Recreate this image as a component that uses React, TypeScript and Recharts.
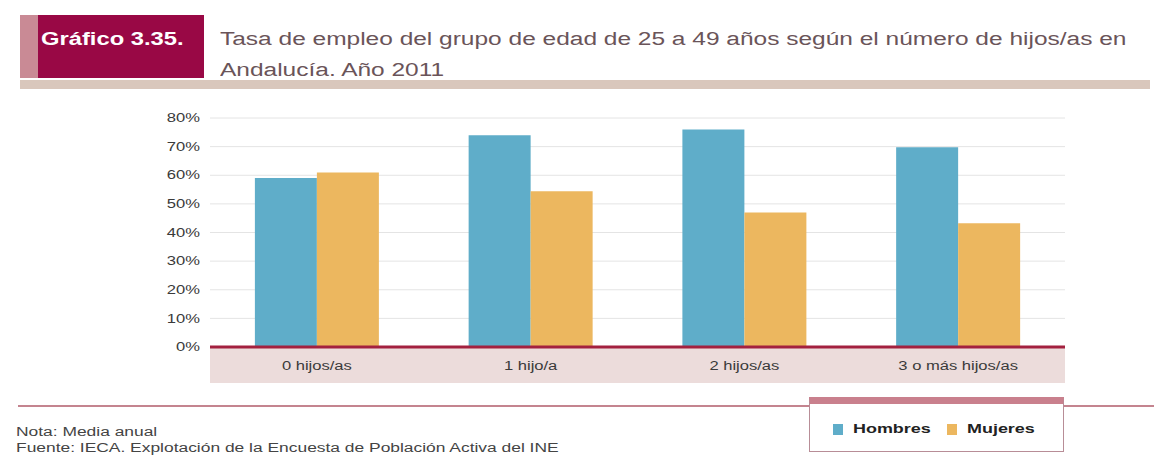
import React from 'react';
import { BarChart, Bar, XAxis, YAxis, CartesianGrid, Legend } from 'recharts';

const categories = ['0 hijos/as', '1 hijo/a', '2 hijos/as', '3 o más hijos/as'];
const hombres = [59, 74, 76, 69.8];
const mujeres = [61, 54.4, 47, 43.2];
const yTicks = [0, 10, 20, 30, 40, 50, 60, 70, 80];
const seriesNames = ['Hombres', 'Mujeres'];
const seriesColors = ['#5fadc9', '#ecb75f'];

const chartTitleTag = 'Gráfico 3.35.';
const chartTitleLine1 = 'Tasa de empleo del grupo de edad de 25 a 49 años según el número de hijos/as en';
const chartTitleLine2 = 'Andalucía. Año 2011';
const noteText = 'Nota: Media anual';
const sourceText = 'Fuente: IECA. Explotación de la Encuesta de Población Activa del INE';

const data = categories.map((c, i) => ({ cat: c, Hombres: hombres[i], Mujeres: mujeres[i] }));

const SX = 1.38;
const FONT = '"Liberation Sans", Arial, sans-serif';

const Stretch = ({ children, style, sx }: any) => (
  <span style={{ display: 'inline-block', transform: `scaleX(${sx || SX})`, transformOrigin: '0 0', whiteSpace: 'nowrap', ...style }}>
    {children}
  </span>
);

const YTick = (props: any) => {
  const { x, y, payload } = props;
  return (
    <g transform={`translate(${x - 2},${y}) scale(${SX},1)`}>
      <text x={0} y={0} dy="0.35em" textAnchor="end" fontSize={12} fill="#3a3a3a" fontFamily={FONT}>
        {`${payload.value}%`}
      </text>
    </g>
  );
};

const XTick = (props: any) => {
  const { x, payload } = props;
  return (
    <g transform={`translate(${x},370) scale(${SX},1)`}>
      <text x={0} y={0} textAnchor="middle" fontSize={12} fill="#3a3a3a" fontFamily={FONT}>
        {payload.value}
      </text>
    </g>
  );
};

const LegendContent = () => (
  <div
    style={{
      boxSizing: 'border-box',
      width: 255,
      height: 55,
      background: '#fff',
      borderLeft: '1px solid #b88d97',
      borderRight: '1px solid #b88d97',
      borderBottom: '1px solid #b88d97',
      borderTop: '7px solid #c9808d',
      position: 'relative',
      fontFamily: FONT,
    }}
  >
    {seriesNames.map((n, i) => (
      <div key={n} style={{ position: 'absolute', left: i === 0 ? 23 : 137, top: 17, height: 16, display: 'flex', alignItems: 'center' }}>
        <div style={{ width: 10, height: 11, background: seriesColors[i], marginRight: 10 }} />
        <Stretch style={{ fontSize: 13, fontWeight: 'bold', color: '#222', lineHeight: '16px' }}>{n}</Stretch>
      </div>
    ))}
  </div>
);

export default function App() {
  return (
    <div style={{ position: 'absolute', left: 0, top: 0, width: 1154, height: 460, background: '#fff', overflow: 'hidden', fontFamily: FONT }}>
      {/* header */}
      <div style={{ position: 'absolute', left: 20, top: 80, width: 1130, height: 9, background: '#d9c7bc' }} />
      <div style={{ position: 'absolute', left: 20, top: 15, width: 18, height: 63, background: '#c98a95' }} />
      <div style={{ position: 'absolute', left: 38, top: 15, width: 166, height: 63, background: '#990845' }} />
      <div style={{ position: 'absolute', left: 41, top: 28 }}>
        <Stretch sx={1.32} style={{ fontSize: 18, fontWeight: 'bold', color: '#fff', lineHeight: '22px' }}>{chartTitleTag}</Stretch>
      </div>
      <div style={{ position: 'absolute', left: 220, top: 24, color: '#6a5459', fontSize: 18, lineHeight: '31px' }}>
        <Stretch sx={1.36}>{chartTitleLine1}</Stretch>
        <br />
        <Stretch sx={1.36}>{chartTitleLine2}</Stretch>
      </div>

      {/* category band under the x axis */}
      <div style={{ position: 'absolute', left: 210, top: 348, width: 855, height: 35, background: '#ecdcdb' }} />

      {/* bottom rule */}
      <div style={{ position: 'absolute', left: 18, top: 405, width: 1136, height: 2, background: '#c4848f' }} />

      {/* notes */}
      <div style={{ position: 'absolute', left: 16, top: 424, color: '#444', fontSize: 12, lineHeight: '16px' }}>
        <Stretch sx={1.45}>{noteText}</Stretch>
        <br />
        <Stretch sx={1.45}>{sourceText}</Stretch>
      </div>

      <div style={{ position: 'absolute', left: 0, top: 0 }}>
        <BarChart
          width={1154}
          height={460}
          data={data}
          margin={{ top: 118, right: 89, left: 160, bottom: 77 }}
          barCategoryGap="21%"
          barGap={0}
        >
          <CartesianGrid vertical={false} stroke="#e4e4e4" strokeWidth={1} />
          <YAxis
            type="number"
            domain={[0, 80]}
            ticks={yTicks}
            width={50}
            axisLine={false}
            tickLine={false}
            tick={<YTick />}
            interval={0}
          />
          <XAxis
            dataKey="cat"
            height={36}
            axisLine={{ stroke: '#a3213f', strokeWidth: 3 }}
            tickLine={false}
            tick={<XTick />}
            interval={0}
          />
          <Legend
            layout="horizontal"
            verticalAlign="middle"
            align="center"
            content={<LegendContent />}
            wrapperStyle={{ left: 809, top: 397, width: 255, height: 55 }}
          />
          {seriesNames.map((n, i) => (
            <Bar key={n} dataKey={n} name={n} fill={seriesColors[i]} isAnimationActive={false} />
          ))}
        </BarChart>
      </div>
    </div>
  );
}
